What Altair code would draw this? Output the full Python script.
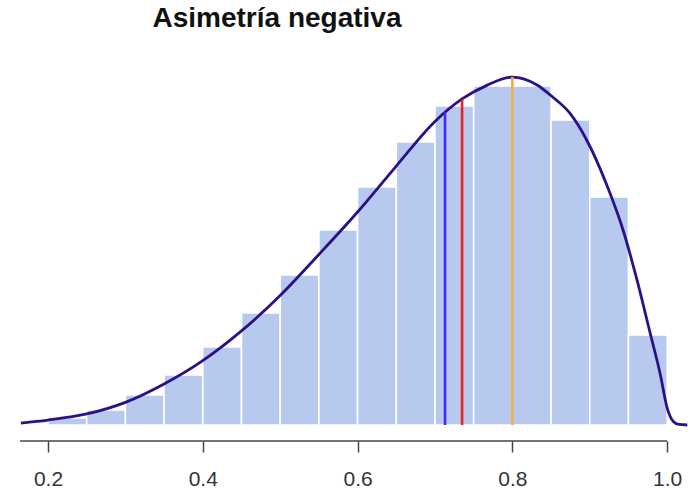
import altair as alt
import pandas as pd

# Histogram of the sample (bins of width 0.05), values on the density scale
bin_start = [0.20, 0.25, 0.30, 0.35, 0.40, 0.45, 0.50, 0.55,
             0.60, 0.65, 0.70, 0.75, 0.80, 0.85, 0.90, 0.95]
bin_density = [0.05, 0.106, 0.212, 0.353, 0.551, 0.792, 1.06, 1.378,
               1.682, 2.0, 2.254, 2.396, 2.396, 2.155, 1.611, 0.636]
bin_width = 0.05

# Kernel density estimate of the same sample
curve_x = [0.165, 0.20, 0.25, 0.30, 0.35, 0.40, 0.45, 0.50, 0.55, 0.60,
           0.65, 0.70, 0.735, 0.767, 0.800, 0.832, 0.852, 0.874, 0.896,
           0.922, 0.943, 0.961, 0.978, 0.991, 1.000, 1.008, 1.015, 1.026]
curve_y = [0.014, 0.035, 0.078, 0.160, 0.290, 0.455, 0.665, 0.915, 1.205,
           1.505, 1.830, 2.145, 2.304, 2.400, 2.459, 2.403, 2.318, 2.205,
           2.014, 1.696, 1.378, 1.025, 0.650, 0.360, 0.120, 0.025, 0.004,
           0.0]

# Mean, median and mode, each drawn up to the density curve
stat_names = ["Media", "Mediana", "Moda"]
stat_x = [0.713, 0.735, 0.800]
stat_top = [2.21, 2.30, 2.46]
stat_colors = ["#3d2cf2", "#e5232a", "#f0ad45"]

tick_values = [0.2, 0.4, 0.6, 0.8, 1.0]

bars = pd.DataFrame({"start": bin_start, "density": bin_density})
bars["end"] = bars["start"] + bin_width
curve = pd.DataFrame({"x": curve_x, "y": curve_y})
stats = pd.DataFrame({"name": stat_names, "x": stat_x, "top": stat_top,
                      "color": stat_colors})
axis_line = pd.DataFrame({"x": [0.164], "x2": [1.0]})

W, H = 690, 391
x_scale = alt.Scale(domain=[0.138, 1.0295], nice=False, zero=False)
y_scale = alt.Scale(domain=[-0.113, 2.65], nice=False, zero=False)
x_axis = alt.Axis(values=tick_values, format=".1f", title=None, grid=False,
                  domain=False, ticks=True, tickSize=11, tickWidth=1.5,
                  tickColor="#444444", labelFont="Liberation Sans",
                  labelFontSize=21, labelColor="#333333", labelPadding=16,
                  labelFlush=False)

hist = alt.Chart(bars).mark_rect(
    color="#b7c9ee", stroke="white", strokeWidth=1.6
).encode(
    x=alt.X("start:Q", scale=x_scale, axis=x_axis),
    x2="end:Q",
    y=alt.Y("density:Q", scale=y_scale, axis=None),
    y2=alt.datum(0),
)

density = alt.Chart(curve).mark_line(
    color="#2b1187", strokeWidth=2.8, interpolate="monotone"
).encode(
    x=alt.X("x:Q", scale=x_scale, axis=x_axis),
    y=alt.Y("y:Q", scale=y_scale, axis=None),
)

stat_lines = alt.Chart(stats).mark_rule(strokeWidth=2.6).encode(
    x=alt.X("x:Q", scale=x_scale, axis=x_axis),
    y=alt.Y("top:Q", scale=y_scale, axis=None),
    y2=alt.datum(0),
    color=alt.Color("color:N", scale=None, legend=None),
)

baseline_axis = alt.Chart(axis_line).mark_rule(
    color="#444444", strokeWidth=1.6
).encode(
    x=alt.X("x:Q", scale=x_scale, axis=x_axis),
    x2="x2:Q",
    y=alt.value(H),
)

chart = alt.layer(hist, density, stat_lines, baseline_axis).properties(
    width=W,
    height=H,
    background="white",
    padding={"left": 0, "top": 50, "right": 0, "bottom": 48},
    autosize=alt.AutoSizeParams(type="none"),
    title=alt.TitleParams(
        "Asimetría negativa", font="Liberation Sans", fontSize=28,
        fontWeight="bold", color="#111111", anchor="middle", dx=-68,
        baseline="alphabetic", offset=22, dy=27,
    ),
).configure_view(stroke=None)

chart.save("out.html", embed_options={"renderer": "svg", "actions": False})
